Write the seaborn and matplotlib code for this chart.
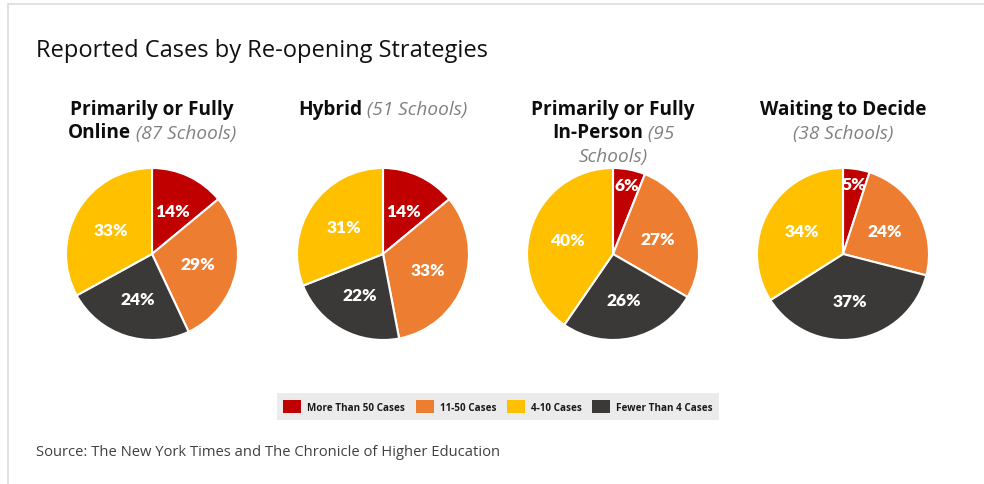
import matplotlib
matplotlib.use("Agg")
import matplotlib.pyplot as plt
import seaborn as sns
from matplotlib.patches import Patch
from matplotlib.lines import Line2D

# data
groups = ["Primarily or Fully Online", "Hybrid", "Primarily or Fully In-Person", "Waiting to Decide"]
case_bins = ["More Than 50 Cases", "11-50 Cases", "Fewer Than 4 Cases", "4-10 Cases"]
online = [14, 29, 24, 33]
hybrid = [14, 33, 22, 31]
in_person = [6, 27, 26, 40]
waiting = [5, 24, 37, 34]
series = [online, hybrid, in_person, waiting]
legend_order = ["More Than 50 Cases", "11-50 Cases", "4-10 Cases", "Fewer Than 4 Cases"]

# title lines per pie: (bold part, grey italic part)
heads = [
    [("Primarily or Fully", ""), ("Online", " (87 Schools)")],
    [("Hybrid", " (51 Schools)")],
    [("Primarily or Fully", ""), ("In-Person", " (95"), ("", "Schools)")],
    [("Waiting to Decide", ""), ("", "(38 Schools)")],
]

sns.set_theme(style="white")
plt.rcParams["font.family"] = ["Open Sans", "DejaVu Sans"]

palette = {"More Than 50 Cases": "#C00000", "11-50 Cases": "#ED7D31",
           "4-10 Cases": "#FFC000", "Fewer Than 4 Cases": "#3B3838"}
colors = [palette[b] for b in case_bins]

W, H = 984, 485
fig = plt.figure(figsize=(W / 100, H / 100), dpi=100)
fig.patch.set_facecolor("white")

# frame lines
fig.add_artist(Line2D([8 / W, 1], [1 - 5 / H, 1 - 5 / H], color="#D9D9D9", lw=1.1))
fig.add_artist(Line2D([8 / W, 8 / W], [0, 1 - 5 / H], color="#D9D9D9", lw=1.1))

fig.text(36 / W, 1 - 57 / H, "Reported Cases by Re-opening Strategies",
         fontsize=17, color="#111111", va="baseline", ha="left")

centers = [152, 383, 613, 843]
cy = 255
r = 86
for cx, vals in zip(centers, series):
    ax = fig.add_axes([(cx - r) / W, (H - cy - r) / H, 2 * r / W, 2 * r / H])
    wedges, texts, autotexts = ax.pie(
        vals, colors=colors, startangle=90, counterclock=False,
        autopct="%d%%", pctdistance=0.55,
        wedgeprops=dict(edgecolor="white", linewidth=1.5),
        textprops=dict(color="white", fontsize=12.5, fontweight="heavy", family="Lato"))
    for v, t in zip(vals, autotexts):
        t.set_text(f"{v}%")
        if v < 10:
            x, y = t.get_position()
            t.set_position((x / 0.55 * 0.82, y / 0.55 * 0.82))
    ax.set_xlim(-1, 1)
    ax.set_ylim(-1, 1)
    ax.set_aspect("equal")
    ax.axis("off")

# headings with mixed styles
fig.canvas.draw()
renderer = fig.canvas.get_renderer()
baselines = [115, 138.5, 162]
bold_kw = dict(fontsize=13.7, fontweight="bold", color="#0D0D0D")
ital_kw = dict(fontsize=13.7, style="italic", color="#808080")
for cx, lines in zip(centers, heads):
    for (b, i), by in zip(lines, baselines):
        y = 1 - by / H
        parts = []
        if b:
            parts.append(fig.text(0, y, b, va="baseline", ha="left", **bold_kw))
        if i:
            txt = i.lstrip() if not b else i
            parts.append(fig.text(0, y, txt, va="baseline", ha="left", **ital_kw))
        widths = [p.get_window_extent(renderer).width for p in parts]
        x0 = cx - sum(widths) / 2
        for p, w in zip(parts, widths):
            p.set_x(x0 / W)
            x0 += w

handles = [Patch(facecolor=palette[k], edgecolor="none", label=k) for k in legend_order]
leg = fig.legend(handles=handles, loc="center", bbox_to_anchor=(498 / W, 1 - 407.5 / H),
                 ncol=4, frameon=True, fancybox=False,
                 handlelength=1.8, handleheight=1.8, handletextpad=0.6,
                 columnspacing=1.1, borderpad=0.7, prop=dict(weight="bold", size=7.1))
leg.get_frame().set_facecolor("#E7E6E6")
leg.get_frame().set_edgecolor("none")
for t in leg.get_texts():
    t.set_color("#1A1A1A")

fig.text(36 / W, 1 - 456 / H, "Source: The New York Times and The Chronicle of Higher Education",
         fontsize=10.6, color="#404040", va="baseline", ha="left")

fig.savefig("out.png", dpi=100)
